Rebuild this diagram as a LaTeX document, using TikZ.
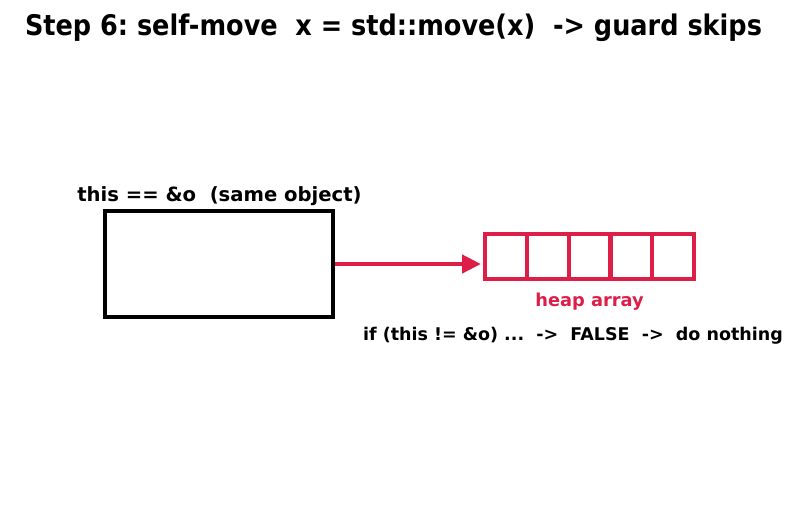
\documentclass[tikz,border=0pt]{standalone}
\usepackage{fontspec}
\setmainfont{DejaVu Sans}
\newfontfamily\condfont{DejaVu Sans Condensed}
\usetikzlibrary{arrows.meta}
\definecolor{heapred}{RGB}{220,30,72}
\frenchspacing
\tikzset{
  lbl/.style={inner sep=0pt, font=\bfseries\fontsize{17.5}{20}\selectfont},
  objbox/.style={draw=black, line width=4.3pt, inner sep=0pt, minimum width=228pt, minimum height=106pt},
  cell/.style={draw=heapred, line width=4.3pt, inner sep=0pt, minimum width=41.8pt, minimum height=45pt},
  ptr/.style={draw=heapred, line width=4.3pt, -{Triangle[length=19pt,width=18pt]}}
}
\begin{document}
\begin{tikzpicture}[x=1pt,y=-1pt]
\useasboundingbox (0,0) rectangle (797,512);
\node[inner sep=0pt, font=\condfont\bfseries\fontsize{28.4}{32}\selectfont] (title) at (393.5,28) {Step 6: self-move\ \ x = std::move(x)\ \ -> guard skips};
\node[objbox] (obj) at (219,264) {};
\node[lbl, font=\bfseries\fontsize{19.6}{22}\selectfont] (objlbl) at (219.5,196) {this == \&o\ \ (same object)};
\foreach \i in {0,...,4}{
  \node[cell] (c\i) at ({506+\i*41.8},256.5) {};
}
\node[lbl, text=heapred, font=\bfseries\fontsize{17.8}{20}\selectfont] (heaplbl) at (589.5,302) {heap array};
\node[lbl, font=\bfseries\fontsize{17.5}{20}\selectfont] (guard) at (573,336) {if (this != \&o) ...\ \ ->\ \ FALSE\ \ ->\ \ do nothing};
\draw[ptr] (obj.east) -- (481,264);
\end{tikzpicture}
\end{document}
